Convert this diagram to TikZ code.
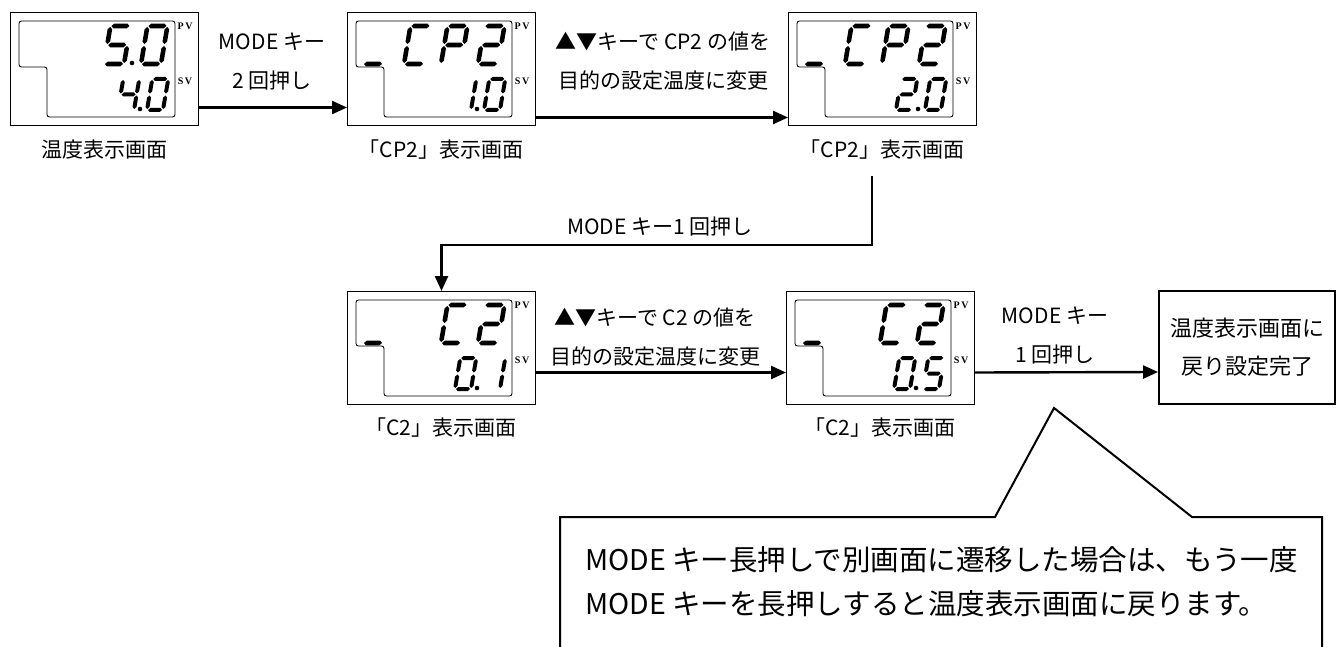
\documentclass[tikz,border=0pt]{standalone}
\usepackage{fontspec}
\setmainfont{Noto Sans CJK JP}
\newfontfamily\tagfont{Liberation Serif}
\usetikzlibrary{arrows.meta,positioning}

\tikzset{
  panel/.style={draw, line width=1pt, minimum width=188pt, minimum height=113pt, inner sep=0pt},
  lcdline/.style={line width=0.9pt, rounded corners=2.5pt},
  tag/.style={font=\tagfont\bfseries\fontsize{10}{10}\selectfont, inner sep=0pt},
  lbl/.style={font=\fontsize{21}{39}\selectfont, inner sep=0pt, align=center},
  flow/.style={line width=2.4pt, -{Triangle[length=15pt,width=13pt]}},
  endbox/.style={draw, line width=1.8pt, minimum width=176pt, minimum height=113pt, inner sep=0pt, align=center, font=\fontsize{22}{38}\selectfont},
  memo/.style={inner sep=0pt, align=left, font=\fontsize{28.5}{44}\selectfont}
}

\newcommand{\hseg}[3]{\fill ({#1+1},#3) -- ({#1+1+\segt/2},{#3+\segt/2}) -- ({#2-1-\segt/2},{#3+\segt/2}) -- ({#2-1},#3) -- ({#2-1-\segt/2},{#3-\segt/2}) -- ({#1+1+\segt/2},{#3-\segt/2}) -- cycle;}
\newcommand{\vseg}[3]{\fill (#1,{#2+1}) -- ({#1+\segt/2},{#2+1+\segt/2}) -- ({#1+\segt/2},{#3-1-\segt/2}) -- (#1,{#3-1}) -- ({#1-\segt/2},{#3-1-\segt/2}) -- ({#1-\segt/2},{#2+1+\segt/2}) -- cycle;}
\newcommand\sega{\hseg{0}{\dw}{\dh}}
\newcommand\segb{\vseg{\dw}{\dh/2}{\dh}}
\newcommand\segc{\vseg{\dw}{0}{\dh/2}}
\newcommand\segd{\hseg{0}{\dw}{0}}
\newcommand\sege{\vseg{0}{0}{\dh/2}}
\newcommand\segf{\vseg{0}{\dh/2}{\dh}}
\newcommand\segg{\hseg{0}{\dw}{\dh/2}}

\newcommand{\lcddigit}[5]{%
  \begin{scope}[shift={(#1,#2)}, y=1pt, xslant=0.17]
    \def\dw{#3}\def\dh{#4}
    \foreach \s in {#5} {\csname seg\s\endcsname}
  \end{scope}}
\newcommand{\topdigit}[2]{\def\segt{4.6}\lcddigit{#1}{52}{20}{38}{#2}}
\newcommand{\botdigit}[2]{\def\segt{4}\lcddigit{#1}{98}{16}{31}{#2}}
\newcommand{\lcddot}[2]{\fill (#1,#2) circle[radius=2.3pt];}

\newcommand{\lcdpanel}[4]{%
  \node[panel, anchor=north west] (#1) at (#2,#3) {};
  \begin{scope}[shift={(#2,#3)}]
    \draw[lcdline] (9,9) -- (165,9) -- (165,105) -- (37,105) -- (37,55) -- (9,55) -- cycle;
    \node[tag] (#1pv) at (175,14) {P\,V};
    \node[tag] (#1sv) at (175,69) {S\,V};
    #4
  \end{scope}}

\begin{document}
\begin{tikzpicture}[x=1pt,y=-1pt]
\clip (0,0) rectangle (1338,647);

\lcdpanel{d1}{10}{12}{
  \topdigit{94}{a,f,g,c,d}\lcddot{122}{51}\topdigit{131}{a,b,c,d,e,f}
  \botdigit{108}{f,g,b,c}\lcddot{130}{97}\botdigit{137}{a,b,c,d,e,f}}
\lcdpanel{d2}{347}{12}{
  \topdigit{16}{d}\topdigit{57}{a,f,e,d}\topdigit{94}{a,b,f,g,e}\topdigit{131}{a,b,g,e,d}
  \botdigit{108}{b,c}\lcddot{130}{97}\botdigit{137}{a,b,c,d,e,f}}
\lcdpanel{d3}{788}{12}{
  \topdigit{16}{d}\topdigit{57}{a,f,e,d}\topdigit{94}{a,b,f,g,e}\topdigit{131}{a,b,g,e,d}
  \botdigit{108}{a,b,g,e,d}\lcddot{130}{97}\botdigit{137}{a,b,c,d,e,f}}
\lcdpanel{d4}{347}{291}{
  \topdigit{16}{d}\topdigit{94}{a,f,e,d}\topdigit{131}{a,b,g,e,d}
  \botdigit{108}{a,b,c,d,e,f}\lcddot{130}{97}\botdigit{137}{b,c}}
\lcdpanel{d5}{786}{291}{
  \topdigit{16}{d}\topdigit{94}{a,f,e,d}\topdigit{131}{a,b,g,e,d}
  \botdigit{108}{a,b,c,d,e,f}\lcddot{130}{97}\botdigit{137}{a,f,g,c,d}}

\node[lbl] (t1) at (104,150) {温度表示画面};
\node[lbl] (t2) at (441,150) {「CP2」表示画面};
\node[lbl] (t3) at (882,150) {「CP2」表示画面};
\node[lbl] (t4) at (441,428) {「C2」表示画面};
\node[lbl] (t5) at (880,428) {「C2」表示画面};

\node[endbox] (fin) at (1247,347.5) {温度表示画面に\\戻り設定完了};

\node[lbl] (k1) at (272,62) {MODE キー\\2 回押し};
\node[lbl] (k2) at (663,61) {▲▼キーで CP2 の値を\\目的の設定温度に変更};
\node[lbl] (k3) at (660,227) {MODE キー1 回押し};
\node[lbl] (k4) at (655,337) {▲▼キーで C2 の値を\\目的の設定温度に変更};
\node[lbl] (k5) at (1055,336) {MODE キー\\1 回押し};

\draw[flow] ([yshift=-38.5pt]d1.east) -- ([yshift=-38.5pt]d2.west);
\draw[flow] ([yshift=-48.5pt]d2.east) -- ([yshift=-48.5pt]d3.west);
\coordinate (a3) at (872,176);
\draw[flow] (a3) -- ++(0,69) -| (d4.north);
\draw[flow] ([yshift=-24.5pt]d4.east) -- ([yshift=-24.5pt]d5.west);
\draw[flow] ([yshift=-24.5pt]d5.east) -- ([yshift=-24.5pt]fin.west);

\draw[line width=2pt] (560,660) -- (560,517) -- (995,517) -- (1054,408) -- (1192,517) -- (1322,517) -- (1322,660);
\node[memo, anchor=west] (note) at (585,582) {MODE キー長押しで別画面に遷移した場合は、もう一度\\MODE キーを長押しすると温度表示画面に戻ります。};
\end{tikzpicture}
\end{document}
